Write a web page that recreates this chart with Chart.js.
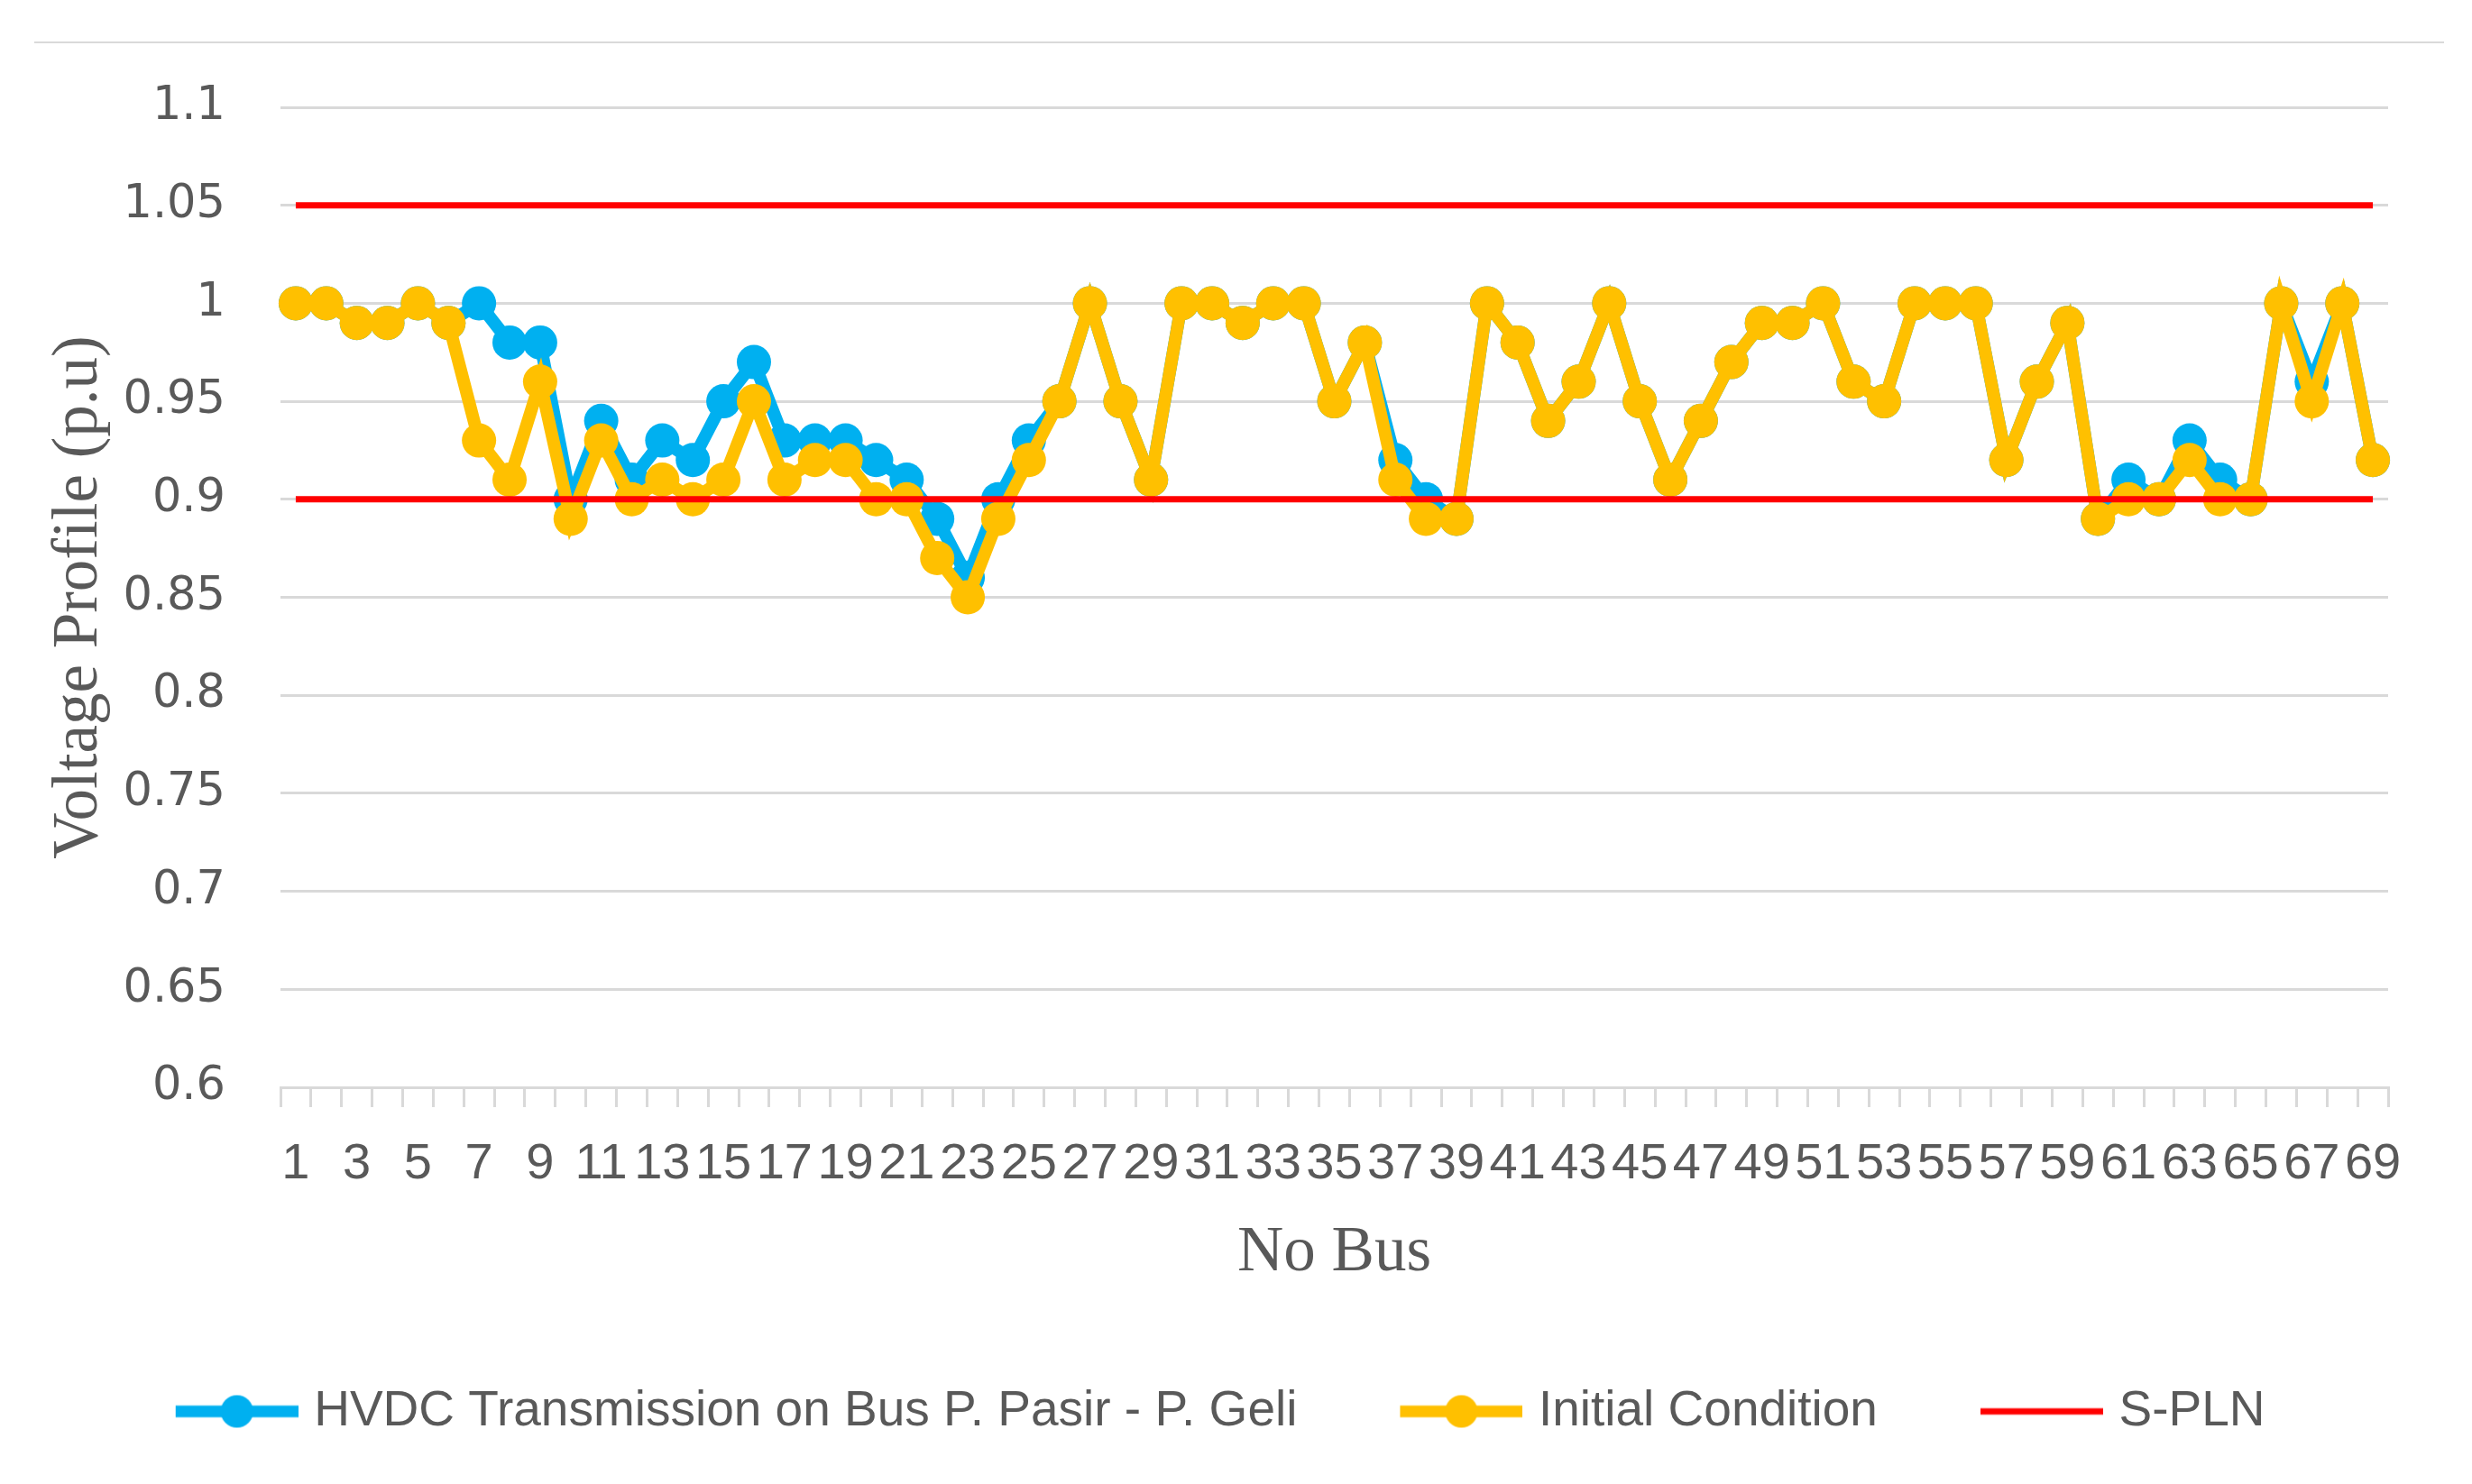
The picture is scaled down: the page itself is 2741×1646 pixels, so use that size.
<!DOCTYPE html>
<html lang="en">
<head>
  <meta charset="UTF-8">
  <title>Voltage Profile per Bus</title>
  <style>
    body { margin: 0; padding: 0; background: #fff; }
    #wrap { position: relative; width: 2741px; height: 1646px; }
    #topRule { position: absolute; left: 38px; top: 46px; width: 2672px; height: 2px; background: #d9d9d9; }
    #grafico { position: absolute; left: 0; top: 0; }
  </style>
</head>
<body>
  <div id="wrap">
    <div id="topRule"></div>
    <canvas id="grafico" width="2741" height="1646"></canvas>
  </div>
  <script src="https://cdn.jsdelivr.net/npm/chart.js"></script>
  <script>
    // Bus numbers (x categories)
    const busNo = [1,2,3,4,5,6,7,8,9,10,11,12,13,14,15,16,17,18,19,20,21,22,23,24,25,26,27,28,29,30,
      31,32,33,34,35,36,37,38,39,40,41,42,43,44,45,46,47,48,49,50,51,52,53,54,55,56,57,58,59,60,
      61,62,63,64,65,66,67,68,69];

    // HVDC transmission on bus P. Pasir - P. Geli (p.u)
    const hvdc = [1.00,1.00,0.99,0.99,1.00,0.99,1.00,0.98,0.98,0.90,
      0.94,0.91,0.93,0.92,0.95,0.97,0.93,0.93,0.93,0.92,
      0.91,0.89,0.86,0.90,0.93,0.95,1.00,0.95,0.91,1.00,
      1.00,0.99,1.00,1.00,0.95,0.98,0.92,0.90,0.89,1.00,
      0.98,0.94,0.96,1.00,0.95,0.91,0.94,0.97,0.99,0.99,
      1.00,0.96,0.95,1.00,1.00,1.00,0.92,0.96,0.99,0.89,
      0.91,0.90,0.93,0.91,0.90,1.00,0.96,1.00,0.92];

    // Initial condition (p.u)
    const inicial = [1.00,1.00,0.99,0.99,1.00,0.99,0.93,0.91,0.96,0.89,
      0.93,0.90,0.91,0.90,0.91,0.95,0.91,0.92,0.92,0.90,
      0.90,0.87,0.85,0.89,0.92,0.95,1.00,0.95,0.91,1.00,
      1.00,0.99,1.00,1.00,0.95,0.98,0.91,0.89,0.89,1.00,
      0.98,0.94,0.96,1.00,0.95,0.91,0.94,0.97,0.99,0.99,
      1.00,0.96,0.95,1.00,1.00,1.00,0.92,0.96,0.99,0.89,
      0.90,0.90,0.92,0.90,0.90,1.00,0.95,1.00,0.92];

    // S-PLN limits
    const splnAtas = 1.05;
    const splnBawah = 0.90;

    // y axis ticks
    const yMin = 0.6, yMax = 1.1, yStep = 0.05;

    const AZUL = '#00b0f0', AMARELO = '#ffc000', VERMELHO = '#ff0000';
    const CINZA = '#d9d9d9', TEXTO = '#595959';

    // legend sample: line (with marker) sitting at the right of a 230px box, a bit wider so it hugs the text
    function iconeLegenda(cor, comMarcador) {
      const c = document.createElement('canvas');
      c.width = 250; c.height = 44;
      const g = c.getContext('2d');
      g.strokeStyle = cor;
      g.lineWidth = comMarcador ? 13 : 7;
      g.beginPath(); g.moveTo(114, 22); g.lineTo(250, 22); g.stroke();
      if (comMarcador) {
        g.fillStyle = cor;
        g.beginPath(); g.arc(182, 22, 18, 0, Math.PI * 2); g.fill();
      }
      return c;
    }

    const serie = (label, data, cor, ordem) => ({
      label, data, order: ordem,
      borderColor: cor, backgroundColor: cor,
      borderWidth: 14, tension: 0,
      pointRadius: 19, pointHoverRadius: 19,
      pointBackgroundColor: cor, pointBorderWidth: 0
    });
    const limite = (valor, ordem) => ({
      label: 'S-PLN', data: busNo.map(() => valor), order: ordem,
      borderColor: VERMELHO, backgroundColor: VERMELHO,
      borderWidth: 7, pointRadius: 0, pointHoverRadius: 0, tension: 0
    });

    new Chart(document.getElementById('grafico').getContext('2d'), {
      type: 'line',
      data: {
        labels: busNo,
        datasets: [
          serie('HVDC Transmission on Bus P. Pasir - P. Geli', hvdc, AZUL, 3),
          serie('Initial Condition', inicial, AMARELO, 2),
          limite(splnAtas, 0),
          limite(splnBawah, 1)
        ]
      },
      options: {
        responsive: false,
        devicePixelRatio: 1,
        animation: false,
        layout: { padding: { left: 0, right: 93, top: 119, bottom: 43 } },
        plugins: {
          tooltip: { enabled: false },
          legend: {
            position: 'bottom',
            labels: {
              usePointStyle: true,
              pointStyleWidth: 230,
              padding: 10,
              color: TEXTO,
              font: { family: 'Liberation Sans', size: 55 },
              generateLabels: () => [
                { text: 'HVDC Transmission on Bus P. Pasir - P. Geli', pointStyle: iconeLegenda(AZUL, true), fillStyle: AZUL, strokeStyle: AZUL, lineWidth: 0, fontColor: TEXTO, datasetIndex: 0, hidden: false },
                { text: 'Initial Condition', pointStyle: iconeLegenda(AMARELO, true), fillStyle: AMARELO, strokeStyle: AMARELO, lineWidth: 0, fontColor: TEXTO, datasetIndex: 1, hidden: false },
                // trailing spaces keep the row centred like the original
                { text: 'S-PLN   ', pointStyle: iconeLegenda(VERMELHO, false), fillStyle: VERMELHO, strokeStyle: VERMELHO, lineWidth: 0, fontColor: TEXTO, datasetIndex: 2, hidden: false }
              ]
            }
          }
        },
        scales: {
          x: {
            offset: true,
            afterFit: s => { s.height = 322; },
            grid: { offset: true, drawOnChartArea: false, drawTicks: true, tickLength: 22, color: CINZA, lineWidth: 3 },
            border: { display: true, color: CINZA, width: 3 },
            ticks: {
              autoSkip: false, maxRotation: 0, minRotation: 0, padding: 30,
              color: TEXTO, font: { family: 'Liberation Sans', size: 56 },
              callback: function (v, i) { return i % 2 === 0 ? this.getLabelForValue(v) : ''; }
            },
            title: { display: true, text: 'No Bus', color: TEXTO, font: { family: 'Liberation Serif', size: 71 }, padding: { top: 0, bottom: 95 } }
          },
          y: {
            min: yMin, max: yMax,
            afterFit: s => { s.width = 311; },
            grid: { color: CINZA, lineWidth: 3, drawTicks: false },
            border: { display: false },
            ticks: {
              stepSize: yStep, padding: 61, color: TEXTO,
              font: { family: 'DejaVu Sans', size: 51 },
              callback: v => String(+v.toFixed(2))
            },
            title: { display: true, text: 'Voltage Profile (p.u)', color: TEXTO, font: { family: 'Liberation Serif', size: 71 }, padding: { top: 46, bottom: 0 } }
          }
        }
      }
    });
  </script>
</body>
</html>
